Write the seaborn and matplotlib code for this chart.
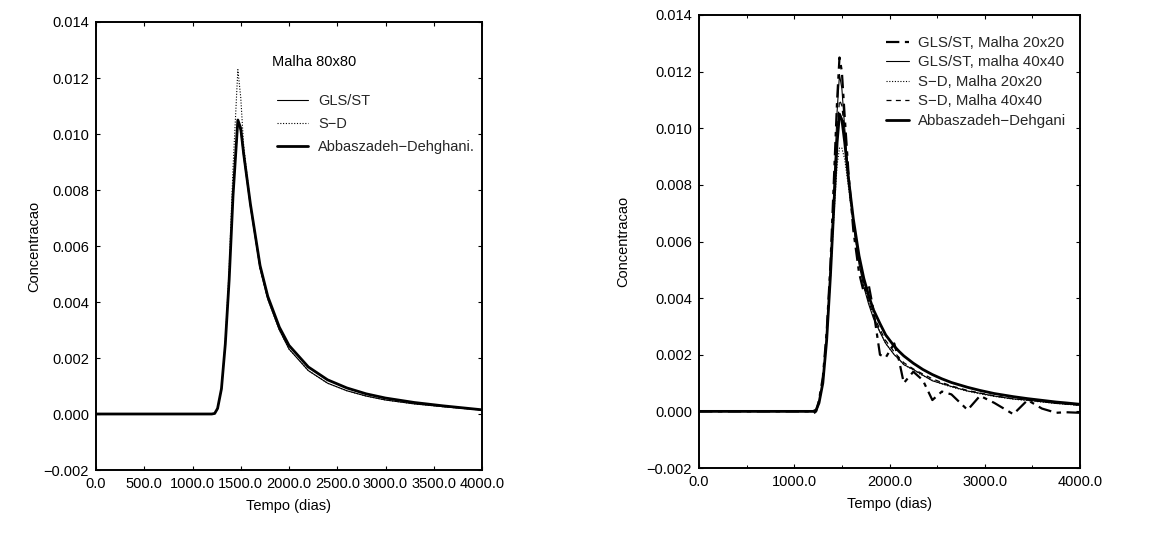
import matplotlib
matplotlib.use("Agg")
import matplotlib.pyplot as plt
import seaborn as sns
import numpy as np
from matplotlib.ticker import MultipleLocator, FuncFormatter

sns.set_theme(style="white")
plt.rcParams['font.family'] = ['Liberation Sans', 'DejaVu Sans']

# ---------------- Left panel data (Malha 80x80) ----------------
t_left = [0, 1200, 1230, 1260, 1300, 1340, 1380, 1420, 1470, 1500, 1530, 1600,
          1700, 1780, 1900, 2000, 2200, 2400, 2600, 2800, 3000, 3300, 3600, 4000]
abbas_left = [0, 0, 0.00002, 0.0002, 0.0009, 0.0025, 0.0048, 0.0078, 0.0105, 0.0102,
              0.0093, 0.0075, 0.0053, 0.0042, 0.0031, 0.00245, 0.00168, 0.00122, 0.00093,
              0.00072, 0.00057, 0.00041, 0.00029, 0.00015]
gls_left = [0, 0, 0.00002, 0.0002, 0.0009, 0.0025, 0.0048, 0.0078, 0.0104, 0.0101,
            0.0092, 0.0074, 0.0052, 0.0041, 0.0030, 0.00232, 0.00155, 0.00110, 0.00083,
            0.00064, 0.00050, 0.00036, 0.00026, 0.00014]
sd_left = [0, 0, 0.00002, 0.0002, 0.0009, 0.0026, 0.0052, 0.0088, 0.0123, 0.0113,
           0.0096, 0.0075, 0.0052, 0.0041, 0.0030, 0.00232, 0.00155, 0.00110, 0.00083,
           0.00064, 0.00050, 0.00036, 0.00026, 0.00014]

# ---------------- Right panel data ----------------
t_right = [0, 1150, 1200, 1230, 1260, 1300, 1340, 1380, 1420, 1450, 1475, 1500, 1530,
           1570, 1620, 1680, 1730, 1780, 1830, 1900, 1960, 2050, 2100, 2150, 2250,
           2350, 2450, 2550, 2650, 2820, 2950, 3100, 3300, 3450, 3600, 3750, 3850, 4000]
abbas_right = [0, 0, 0, 0.00005, 0.0003, 0.0010, 0.0025, 0.0048, 0.0075, 0.0095, 0.0105,
               0.0103, 0.0095, 0.0082, 0.0068, 0.0055, 0.0047, 0.0041, 0.0036, 0.0031,
               0.0027, 0.0023, 0.00212, 0.00196, 0.00170, 0.00148, 0.00130, 0.00115,
               0.00102, 0.00085, 0.00074, 0.00063, 0.00052, 0.00045, 0.00039, 0.00033,
               0.00030, 0.00025]
gls20_right = [0, 0, -0.00008, 0.0, 0.0004, 0.0012, 0.0028, 0.0052, 0.0085, 0.0110, 0.0125,
               0.0120, 0.0104, 0.0084, 0.0064, 0.0049, 0.0042, 0.0045, 0.0036, 0.0020,
               0.0019, 0.0024, 0.0018, 0.0010, 0.0014, 0.0011, 0.0004, 0.0007, 0.0006,
               0.00005, 0.00055, 0.0003, -0.0001, 0.0004, 0.0001, -0.00005, -0.00003, -0.00005]
gls40_right = [0, 0, 0, 0.00003, 0.0003, 0.0010, 0.0026, 0.0050, 0.0082, 0.0106, 0.0119,
               0.0114, 0.0100, 0.0083, 0.0066, 0.0052, 0.0044, 0.0038, 0.0033, 0.0028,
               0.0024, 0.0020, 0.00185, 0.00165, 0.00148, 0.00128, 0.00108, 0.00098,
               0.00088, 0.00072, 0.00064, 0.00054, 0.00044, 0.00040, 0.00034, 0.00028,
               0.00026, 0.00022]
sd20_right = [0, 0, 0, 0.00003, 0.0003, 0.0010, 0.0025, 0.0047, 0.0071, 0.0087, 0.0093,
              0.0093, 0.0089, 0.0079, 0.0066, 0.0053, 0.0045, 0.0039, 0.0034, 0.0028,
              0.0024, 0.0020, 0.00182, 0.00166, 0.00145, 0.00126, 0.00110, 0.00097,
              0.00086, 0.00071, 0.00062, 0.00053, 0.00043, 0.00038, 0.00033, 0.00028,
              0.00025, 0.00021]
sd40_right = [0, 0, 0, 0.00003, 0.0003, 0.0010, 0.0026, 0.0049, 0.0078, 0.0099, 0.0110,
              0.0108, 0.0098, 0.0083, 0.0067, 0.0054, 0.0045, 0.0039, 0.0034, 0.0029,
              0.0025, 0.0021, 0.00190, 0.00172, 0.00150, 0.00132, 0.00115, 0.00102,
              0.00090, 0.00074, 0.00065, 0.00055, 0.00045, 0.00040, 0.00035, 0.00029,
              0.00026, 0.00022]

xlabel = "Tempo (dias)"
ylabel = "Concentracao"
left_title = "Malha 80x80"

W, H = 1151, 535
fig = plt.figure(figsize=(W / 100, H / 100), dpi=100)
ax1 = fig.add_axes([96 / W, 1 - 470 / H, (482 - 96) / W, (470 - 22) / H])
ax2 = fig.add_axes([699 / W, 1 - 468 / H, (1080 - 699) / W, (468 - 15) / H])

k = "black"
sns.lineplot(x=t_left, y=gls_left, ax=ax1, color=k, linewidth=0.8, label="GLS/ST")
sns.lineplot(x=t_left, y=sd_left, ax=ax1, color=k, linewidth=0.8, linestyle=(0, (1, 1.5)), label="S\u2212D")
sns.lineplot(x=t_left, y=abbas_left, ax=ax1, color=k, linewidth=2.0, label="Abbaszadeh\u2212Dehghani.")

sns.lineplot(x=t_right, y=gls20_right, ax=ax2, color=k, linewidth=1.6,
             linestyle=(0, (6, 2.5, 2, 2.5)), label="GLS/ST, Malha 20x20")
sns.lineplot(x=t_right, y=gls40_right, ax=ax2, color=k, linewidth=0.8, label="GLS/ST, malha 40x40")
sns.lineplot(x=t_right, y=sd20_right, ax=ax2, color=k, linewidth=0.8, linestyle=(0, (1, 1.5)),
             label="S\u2212D, Malha 20x20")
sns.lineplot(x=t_right, y=sd40_right, ax=ax2, color=k, linewidth=0.9, linestyle=(0, (4, 3.5)),
             label="S\u2212D, Malha 40x40")
sns.lineplot(x=t_right, y=abbas_right, ax=ax2, color=k, linewidth=2.0, label="Abbaszadeh\u2212Dehgani")

xfmt = FuncFormatter(lambda v, p: ("%.1f" % v).replace("-", "\u2212"))
yfmt = FuncFormatter(lambda v, p: ("%.3f" % v).replace("-", "\u2212"))

for ax, xmaj, ylpad in ((ax1, 500, 2), (ax2, 1000, 12)):
    ax.set_xlim(0, 4000)
    ax.set_ylim(-0.002, 0.014)
    ax.xaxis.set_major_locator(MultipleLocator(xmaj))
    if xmaj == 1000:
        ax.xaxis.set_minor_locator(MultipleLocator(500))
    ax.yaxis.set_major_locator(MultipleLocator(0.002))
    ax.xaxis.set_major_formatter(xfmt)
    ax.yaxis.set_major_formatter(yfmt)
    ax.tick_params(which="both", direction="in", top=True, right=True, bottom=True, left=True,
                   colors="black", labelsize=10.5, pad=5)
    ax.tick_params(which="major", length=3, width=0.8)
    ax.tick_params(which="minor", length=2, width=0.7)
    for s in ax.spines.values():
        s.set_color("black")
        s.set_linewidth(1.4)
        s.set_visible(True)
    ax.set_xlabel(xlabel, fontsize=10.5, color="black", labelpad=6)
    ax.set_ylabel(ylabel, fontsize=10.5, color="black", labelpad=ylpad)
    ax.grid(False)
    ax.set_facecolor("white")

ax1.text(0.455, 0.911, left_title, transform=ax1.transAxes, fontsize=10.5,
         ha="left", va="center", color="black")
ax1.legend(loc="upper left", bbox_to_anchor=(0.469, 0.84), frameon=False, fontsize=10.5,
           borderpad=0, borderaxespad=0, handlelength=2.1, handletextpad=0.7,
           labelspacing=0.62)
ax2.legend(loc="upper left", bbox_to_anchor=(0.492, 0.954), frameon=False, fontsize=10.8,
           borderpad=0, borderaxespad=0, handlelength=1.5, handletextpad=0.6,
           labelspacing=0.37)

fig.savefig("out.png", dpi=100, facecolor="white")
